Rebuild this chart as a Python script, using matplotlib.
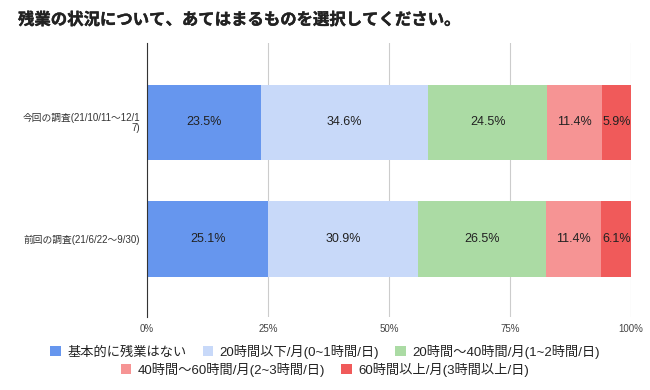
import matplotlib
matplotlib.use("Agg")
import matplotlib.pyplot as plt
from matplotlib.patches import Patch
import matplotlib.patheffects as pe
import numpy as np

FAM = ['Liberation Sans', 'Noto Sans CJK JP', 'DejaVu Sans']
plt.rcParams['font.family'] = FAM

title = "残業の状況について、あてはまるものを選択してください。"
categories = ["今回の調査(21/10/11〜12/1\n7)", "前回の調査(21/6/22〜9/30)"]
series_names = ["基本的に残業はない", "20時間以下/月(0~1時間/日)", "20時間〜40時間/月(1~2時間/日)",
                "40時間〜60時間/月(2~3時間/日)", "60時間以上/月(3時間以上/日)"]
values = [
    [23.5, 25.1],
    [34.6, 30.9],
    [24.5, 26.5],
    [11.4, 11.4],
    [5.9, 6.1],
]
xticks = [0, 25, 50, 75, 100]
xticklabels = ["0%", "25%", "50%", "75%", "100%"]
colors = ["#6696EE", "#C8D9F9", "#ABDBA4", "#F69494", "#F05A5A"]

fig = plt.figure(figsize=(6.5, 3.9), dpi=100)
ax = fig.add_axes([147/650, 1-317/390, (631-147)/650, (317-43)/390])

y = np.arange(len(categories))
left = np.zeros(len(categories))
totals = np.sum(values, axis=0)
for vals, c in zip(values, colors):
    v = np.array(vals) / totals * 100
    bars = ax.barh(y, v, left=left, color=c, height=0.65, zorder=3)
    ax.bar_label(bars, labels=[f"{a:.1f}%" for a in vals], label_type='center',
                 fontsize=9, color='#222222', zorder=4)
    left += v

ax.set_xlim(0, 100)
ax.set_ylim(1.67, -0.682)
ax.set_xticks(xticks)
ax.set_xticklabels(xticklabels, fontsize=7, color='#444444')
ax.set_yticks(y)
ax.set_yticklabels(categories, fontsize=7, color='#333333', linespacing=0.95)
ax.tick_params(axis='both', length=0, pad=5)
ax.tick_params(axis='y', pad=5)
ax.grid(axis='x', color='#cccccc', linewidth=0.8, zorder=0)
for s in ['top', 'right', 'bottom']:
    ax.spines[s].set_visible(False)
ax.spines['left'].set_color('#333333')
ax.spines['left'].set_linewidth(0.8)
ax.spines['left'].set_zorder(5)

fig.text(18/650, 1-20/390, title, fontsize=11.8, fontweight='bold', va='center', ha='left',
         color='#222222', path_effects=[pe.withStroke(linewidth=0.3, foreground='#222222')])

handles = [Patch(facecolor=c, edgecolor='none') for c in colors]
leg1 = fig.legend(handles[:3], series_names[:3], loc='center', bbox_to_anchor=(0.5, 1-352/390),
                  ncol=3, frameon=False, fontsize=9.5, handlelength=0.8, handleheight=0.8,
                  handletextpad=0.5, columnspacing=1.2, borderpad=0)
leg2 = fig.legend(handles[3:], series_names[3:], loc='center', bbox_to_anchor=(0.5, 1-370/390),
                  ncol=2, frameon=False, fontsize=9.5, handlelength=0.8, handleheight=0.8,
                  handletextpad=0.5, columnspacing=1.2, borderpad=0)
for leg in (leg1, leg2):
    for t in leg.get_texts():
        t.set_color('#222222')

fig.savefig("out.png", dpi=100)
